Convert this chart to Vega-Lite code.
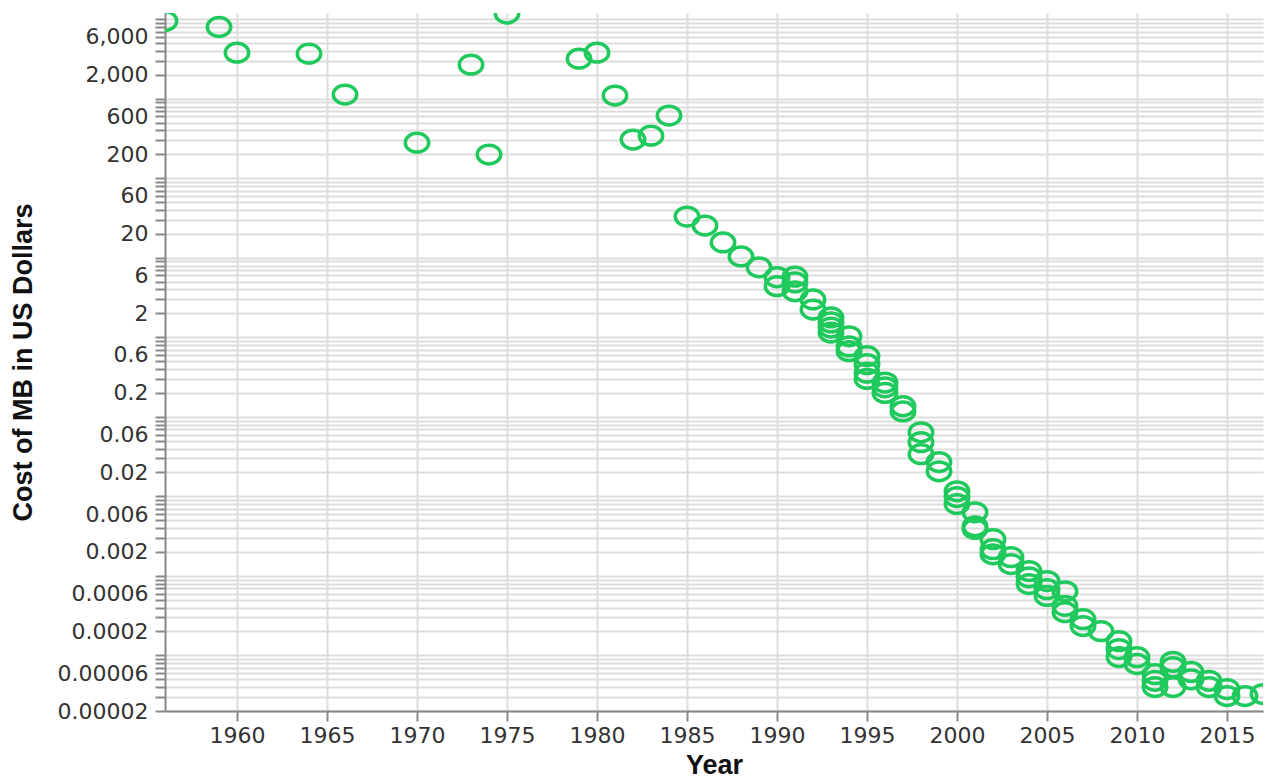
{
  "$schema": "https://vega.github.io/schema/vega-lite/v6.json",
  "autosize": "none",
  "width": 1098,
  "height": 698,
  "padding": {"left": 165, "top": 13, "right": 6, "bottom": 67},
  "background": "white",
  "config": {
    "view": {"stroke": null},
    "axis": {
      "labelFont": "DejaVu Sans",
      "labelFontSize": 22,
      "labelColor": "#333333",
      "titleFont": "Liberation Sans",
      "titleFontSize": 27,
      "titleFontWeight": "bold",
      "titleColor": "#111111",
      "gridColor": "#dddddd",
      "gridWidth": 2,
      "domainColor": "#888888",
      "domainWidth": 2,
      "tickColor": "#888888",
      "tickWidth": 2,
      "tickSize": 10
    }
  },
  "data": {
    "values": [
      {"year": 1956, "cost": 9500},
      {"year": 1959, "cost": 8000},
      {"year": 1960, "cost": 3800},
      {"year": 1964, "cost": 3700},
      {"year": 1966, "cost": 1130},
      {"year": 1970, "cost": 281},
      {"year": 1973, "cost": 2690},
      {"year": 1974, "cost": 199},
      {"year": 1975, "cost": 11800},
      {"year": 1979, "cost": 3200},
      {"year": 1980, "cost": 3800},
      {"year": 1981, "cost": 1100},
      {"year": 1982, "cost": 307},
      {"year": 1983, "cost": 344},
      {"year": 1984, "cost": 615},
      {"year": 1985, "cost": 33},
      {"year": 1986, "cost": 25.5},
      {"year": 1987, "cost": 15.6},
      {"year": 1988, "cost": 10.4},
      {"year": 1989, "cost": 7.6},
      {"year": 1990, "cost": 5.7},
      {"year": 1990, "cost": 4.4},
      {"year": 1991, "cost": 5.8},
      {"year": 1991, "cost": 4.9},
      {"year": 1991, "cost": 3.8},
      {"year": 1992, "cost": 3.0},
      {"year": 1992, "cost": 2.24},
      {"year": 1993, "cost": 1.78},
      {"year": 1993, "cost": 1.54},
      {"year": 1993, "cost": 1.33},
      {"year": 1993, "cost": 1.15},
      {"year": 1994, "cost": 1.03},
      {"year": 1994, "cost": 0.77},
      {"year": 1994, "cost": 0.67},
      {"year": 1995, "cost": 0.58},
      {"year": 1995, "cost": 0.46},
      {"year": 1995, "cost": 0.36},
      {"year": 1995, "cost": 0.30},
      {"year": 1996, "cost": 0.27},
      {"year": 1996, "cost": 0.235},
      {"year": 1996, "cost": 0.20},
      {"year": 1997, "cost": 0.136},
      {"year": 1997, "cost": 0.117},
      {"year": 1998, "cost": 0.064},
      {"year": 1998, "cost": 0.048},
      {"year": 1998, "cost": 0.034},
      {"year": 1999, "cost": 0.027},
      {"year": 1999, "cost": 0.0207},
      {"year": 2000, "cost": 0.0116},
      {"year": 2000, "cost": 0.0098},
      {"year": 2000, "cost": 0.0080},
      {"year": 2001, "cost": 0.0063},
      {"year": 2001, "cost": 0.0042},
      {"year": 2001, "cost": 0.0039},
      {"year": 2002, "cost": 0.0029},
      {"year": 2002, "cost": 0.00217},
      {"year": 2002, "cost": 0.00187},
      {"year": 2003, "cost": 0.00172},
      {"year": 2003, "cost": 0.00141},
      {"year": 2004, "cost": 0.00115},
      {"year": 2004, "cost": 0.00096},
      {"year": 2004, "cost": 0.00079},
      {"year": 2005, "cost": 0.00086},
      {"year": 2005, "cost": 0.00068},
      {"year": 2005, "cost": 0.00056},
      {"year": 2006, "cost": 0.00064},
      {"year": 2006, "cost": 0.00042},
      {"year": 2006, "cost": 0.00035},
      {"year": 2007, "cost": 0.000286},
      {"year": 2007, "cost": 0.000234},
      {"year": 2008, "cost": 0.000202},
      {"year": 2009, "cost": 0.000151},
      {"year": 2009, "cost": 0.00012},
      {"year": 2009, "cost": 0.0000953},
      {"year": 2010, "cost": 0.000095},
      {"year": 2010, "cost": 0.000078},
      {"year": 2011, "cost": 0.000058},
      {"year": 2011, "cost": 0.000048},
      {"year": 2011, "cost": 0.00004},
      {"year": 2012, "cost": 0.000083},
      {"year": 2012, "cost": 0.000071},
      {"year": 2012, "cost": 0.00004},
      {"year": 2013, "cost": 0.000062},
      {"year": 2013, "cost": 0.00005},
      {"year": 2014, "cost": 0.000048},
      {"year": 2014, "cost": 0.00004},
      {"year": 2015, "cost": 0.0000377},
      {"year": 2015, "cost": 0.0000308},
      {"year": 2016, "cost": 0.0000308},
      {"year": 2017, "cost": 0.0000327}
    ]
  },
  "mark": {
    "type": "point",
    "shape": "M -1 0 A 1 0.8 0 1 0 1 0 A 1 0.8 0 1 0 -1 0 Z",
    "filled": false,
    "size": 550,
    "strokeWidth": 3.5,
    "color": "#20c95c",
    "opacity": 1,
    "clip": true
  },
  "encoding": {
    "x": {
      "field": "year",
      "type": "quantitative",
      "title": "Year",
      "scale": {"domain": [1956, 2017], "nice": false, "zero": false},
      "axis": {
        "values": [1960, 1965, 1970, 1975, 1980, 1985, 1990, 1995, 2000, 2005, 2010, 2015],
        "format": "d",
        "labelPadding": 4,
        "titleBaseline": "alphabetic",
        "titleY": 62,
        "labelOverlap": false
      }
    },
    "y": {
      "field": "cost",
      "type": "quantitative",
      "title": "Cost of MB in US Dollars",
      "scale": {"type": "log", "domain": [0.00002, 12000], "nice": false},
      "axis": {
        "values": [0.00002, 0.00003, 0.00004, 0.00005, 0.00006, 0.00007, 0.00008, 0.00009,
          0.0001, 0.0002, 0.0003, 0.0004, 0.0005, 0.0006, 0.0007, 0.0008, 0.0009,
          0.001, 0.002, 0.003, 0.004, 0.005, 0.006, 0.007, 0.008, 0.009,
          0.01, 0.02, 0.03, 0.04, 0.05, 0.06, 0.07, 0.08, 0.09,
          0.1, 0.2, 0.3, 0.4, 0.5, 0.6, 0.7, 0.8, 0.9,
          1, 2, 3, 4, 5, 6, 7, 8, 9,
          10, 20, 30, 40, 50, 60, 70, 80, 90,
          100, 200, 300, 400, 500, 600, 700, 800, 900,
          1000, 2000, 3000, 4000, 5000, 6000, 7000, 8000, 9000, 10000],
        "labelExpr": "(round(datum.value / pow(10, floor(log(datum.value) / LN10 + 0.000001))) == 2 || round(datum.value / pow(10, floor(log(datum.value) / LN10 + 0.000001))) == 6) ? format(datum.value, ',') : ''",
        "labelOverlap": false,
        "labelPadding": 7,
        "titleX": -128,
        "titleY": 349,
        "titleAngle": 270,
        "titleBaseline": "bottom",
        "titleAlign": "center"
      }
    }
  }
}
